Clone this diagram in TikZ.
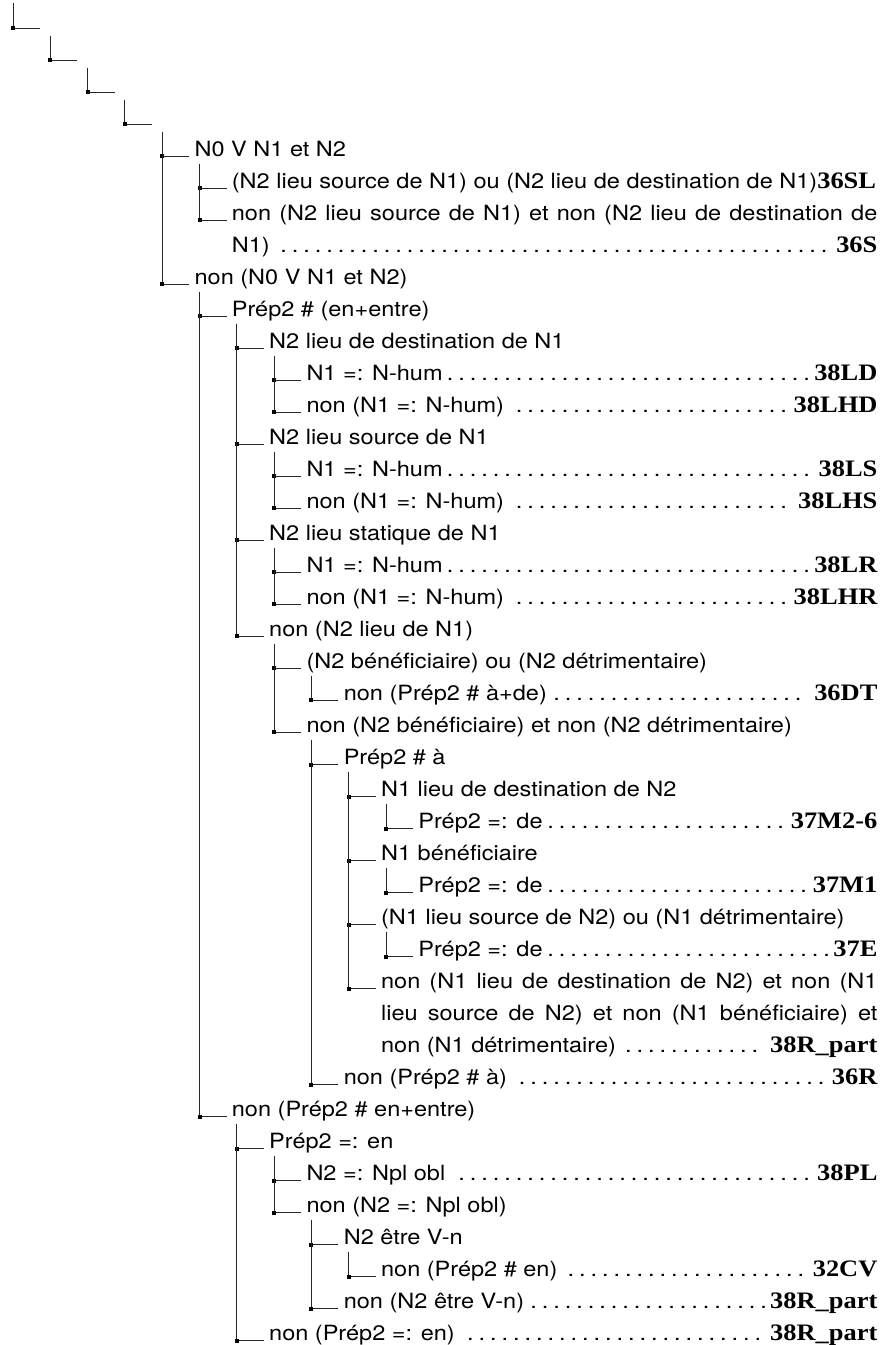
\documentclass[tikz,border=0pt]{standalone}
\usepackage{fontspec}
\setmainfont{TeX Gyre Heros}[FakeStretch=1.12]
\newfontfamily\codefont{Liberation Serif}[FakeStretch=1.12]
\newcommand\leaderdots{\leaders\hbox to 5.75pt{\hss.\hss}\hfill}
\newcommand\code[1]{{\codefont\bfseries\fontsize{11.8}{16}\selectfont #1}}

\begin{document}
\begin{tikzpicture}[
  x=0.5pt, y=-0.5pt,
  item/.style={anchor=base west, inner sep=0pt, align=justify, text width=416pt-18.65pt*#1, font=\fontsize{10.5}{16}\selectfont},
  branch/.style={draw=black!85, line width=0.5pt},
  knot/.style={fill=black, inner sep=0pt, minimum size=2pt}
]
\useasboundingbox (0,0) rectangle (883,1345);

\node[item=0] (r1) at (45,28) {};
\node[item=1] (r2) at (82.3,60) {};
\node[item=2] (r3) at (119.6,92) {};
\node[item=3] (r4) at (156.9,124.1) {};
\node[item=4] (nvn) at (194.2,156.1) {N0 V N1 et N2};
\node[item=5] (srcdst) at (231.5,188.1) {(N2 lieu source de N1) ou (N2 lieu de destination de N1)\code{36SL}};
\node[item=5] (nsrcdst) at (231.5,220.1) {non (N2 lieu source de N1) et non (N2 lieu de destination de\linebreak N1)\leaderdots\code{36S}};
\node[item=4] (notnvn) at (194.2,284.2) {non (N0 V N1 et N2)};
\node[item=5] (pnen) at (231.5,316.2) {Prép2 \# (en+entre)};
\node[item=6] (dest) at (268.8,348.2) {N2 lieu de destination de N1};
\node[item=7] (desthum) at (306.1,380.2) {N1 =: N-hum\leaderdots\code{38LD}};
\node[item=7] (destnhum) at (306.1,412.2) {non (N1 =: N-hum)\leaderdots\code{38LHD}};
\node[item=6] (src) at (268.8,444.3) {N2 lieu source de N1};
\node[item=7] (srchum) at (306.1,476.3) {N1 =: N-hum\leaderdots\code{38LS}};
\node[item=7] (srcnhum) at (306.1,508.3) {non (N1 =: N-hum)\leaderdots\code{38LHS}};
\node[item=6] (stat) at (268.8,540.3) {N2 lieu statique de N1};
\node[item=7] (stathum) at (306.1,572.3) {N1 =: N-hum\leaderdots\code{38LR}};
\node[item=7] (statnhum) at (306.1,604.4) {non (N1 =: N-hum)\leaderdots\code{38LHR}};
\node[item=6] (nolieu) at (268.8,636.4) {non (N2 lieu de N1)};
\node[item=7] (benef) at (306.1,668.4) {(N2 bénéficiaire) ou (N2 détrimentaire)};
\node[item=8] (benefde) at (343.4,700.4) {non (Prép2 \# à+de)\leaderdots\code{36DT}};
\node[item=7] (nbenef) at (306.1,732.4) {non (N2 bénéficiaire) et non (N2 détrimentaire)};
\node[item=8] (pa) at (343.4,764.5) {Prép2 \# à};
\node[item=9] (n1dest) at (380.7,796.5) {N1 lieu de destination de N2};
\node[item=10] (n1destde) at (418,828.5) {Prép2 =: de\leaderdots\code{37M2-6}};
\node[item=9] (n1benef) at (380.7,860.5) {N1 bénéficiaire};
\node[item=10] (n1benefde) at (418,892.6) {Prép2 =: de\leaderdots\code{37M1}};
\node[item=9] (n1src) at (380.7,924.6) {(N1 lieu source de N2) ou (N1 détrimentaire)};
\node[item=10] (n1srcde) at (418,956.6) {Prép2 =: de\leaderdots\code{37E}};
\node[item=9] (n1none) at (380.7,988.6) {non (N1 lieu de destination de N2) et non (N1\linebreak lieu source de N2) et non (N1 bénéficiaire) et\linebreak non (N1 détrimentaire)\leaderdots\code{38R\_part}};
\node[item=8] (npa) at (343.4,1084.7) {non (Prép2 \# à)\leaderdots\code{36R}};
\node[item=5] (npnen) at (231.5,1116.7) {non (Prép2 \# en+entre)};
\node[item=6] (pen) at (268.8,1148.7) {Prép2 =: en};
\node[item=7] (npl) at (306.1,1180.7) {N2 =: Npl obl\leaderdots\code{38PL}};
\node[item=7] (nnpl) at (306.1,1212.8) {non (N2 =: Npl obl)};
\node[item=8] (vn) at (343.4,1244.8) {N2 être V-n};
\node[item=9] (vnen) at (380.7,1276.8) {non (Prép2 \# en)\leaderdots\code{32CV}};
\node[item=8] (nvnn) at (343.4,1308.8) {non (N2 être V-n)\leaderdots\code{38R\_part}};
\node[item=6] (npen) at (268.8,1340.8) {non (Prép2 =: en)\leaderdots\code{38R\_part}};

% tree branches
\coordinate (top) at (13,3);
\draw[branch] (top) |- node[knot]{} ([xshift=-2.5pt]r1.base west);
\foreach \p/\c in {r1/r2, r2/r3, r3/r4, r4/nvn, r4/notnvn,
    nvn/srcdst, nvn/nsrcdst, notnvn/pnen, notnvn/npnen,
    pnen/dest, pnen/src, pnen/stat, pnen/nolieu,
    dest/desthum, dest/destnhum, src/srchum, src/srcnhum, stat/stathum, stat/statnhum,
    nolieu/benef, nolieu/nbenef, benef/benefde, nbenef/pa, nbenef/npa,
    pa/n1dest, pa/n1benef, pa/n1src, pa/n1none,
    n1dest/n1destde, n1benef/n1benefde, n1src/n1srcde,
    npnen/pen, npnen/npen, pen/npl, pen/nnpl, nnpl/vn, nnpl/nvnn, vn/vnen}
  \draw[branch] ([xshift=2.65pt,yshift=-3.75pt]\p.base west) |- node[knot]{} ([xshift=-2.5pt]\c.base west);
\end{tikzpicture}
\end{document}
